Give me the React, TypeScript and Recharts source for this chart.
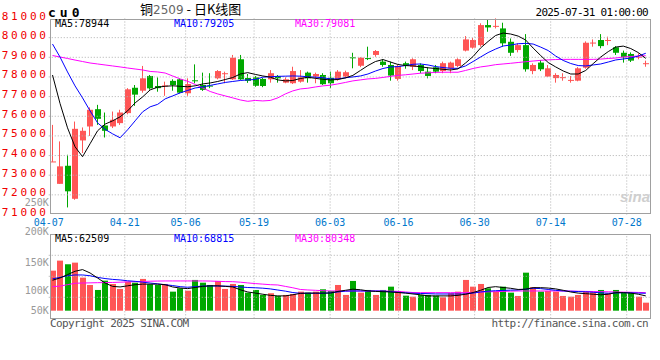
import React from "react";
import { ComposedChart, Bar, Line, XAxis, YAxis, ReferenceLine } from "recharts";

// trading days shown (04-07 .. 07-31)
const dates = [
  "04-07", "04-08", "04-09", "04-10", "04-11", "04-14", "04-15", "04-16", "04-17", "04-18",
  "04-21", "04-22", "04-23", "04-24", "04-25", "04-28", "04-29", "04-30", "05-06", "05-07",
  "05-08", "05-09", "05-12", "05-13", "05-14", "05-15", "05-16", "05-19", "05-20", "05-21",
  "05-22", "05-23", "05-26", "05-27", "05-28", "05-29", "05-30", "06-03", "06-04", "06-05",
  "06-06", "06-09", "06-10", "06-11", "06-12", "06-13", "06-16", "06-17", "06-18", "06-19",
  "06-20", "06-23", "06-24", "06-25", "06-26", "06-27", "06-30", "07-01", "07-02", "07-03",
  "07-04", "07-07", "07-08", "07-09", "07-10", "07-11", "07-14", "07-15", "07-16", "07-17",
  "07-18", "07-21", "07-22", "07-23", "07-24", "07-25", "07-28", "07-29", "07-30", "07-31",
];

const opens = [
  73680, 72560, 73480, 71800, 74770, 75480, 76360, 75530, 75480, 75650,
  76160, 77450, 77300, 78050, 77540, 77550, 77800, 77880, 77170, 77830,
  77590, 77560, 77930, 78170, 77880, 78900, 77950, 77980, 77900, 77880,
  78050, 77710, 77680, 77760, 78220, 78020, 78100, 77960, 77880, 78020,
  79000, 78570, 78960, 79120, 78780, 78610, 77900, 78700, 78520, 78610,
  78270, 78490, 78300, 78440, 78560, 79340, 79490, 79620, 80640, 80580,
  80470, 79790, 79370, 79620, 78300, 78730, 78020, 77940, 77960, 77830,
  77810, 78470, 79720, 79880, 79860, 79510, 79230, 79170, 79000, 78680,
];
const highs = [
  75560, 74720, 74040, 75730, 75430, 76450, 76580, 76190, 76240, 76330,
  77430, 77590, 78560, 78100, 77980, 77760, 77880, 77930, 77930, 78640,
  78220, 78190, 78350, 78270, 79120, 79120, 78150, 78050, 77950, 78350,
  78100, 77980, 78520, 78350, 78270, 78220, 78190, 78270, 78350, 78320,
  79230, 79000, 79540, 79370, 78900, 78780, 78610, 78780, 78950, 78690,
  78490, 78610, 78780, 78780, 78950, 80080, 79980, 80730, 80930, 80980,
  80760, 79960, 79710, 80180, 78690, 78860, 78610, 78190, 78190, 78050,
  78500, 79810, 79910, 80180, 80050, 79570, 79340, 79250, 79200, 78830,
];
const lows = [
  73680, 72560, 71360, 71750, 74130, 75000, 75560, 74920, 75400, 75560,
  76100, 76530, 77200, 77350, 77250, 77040, 77300, 77170, 77040, 77680,
  77290, 77430, 77880, 77680, 77850, 77850, 77700, 77500, 77480, 77710,
  77710, 77680, 77640, 77710, 77710, 77680, 77590, 77430, 77810, 77930,
  78440, 78500, 78860, 79030, 78520, 77810, 77810, 78420, 78350, 78190,
  77930, 78190, 78190, 78190, 78500, 79300, 79440, 79540, 80300, 80470,
  79540, 79070, 79250, 78270, 78140, 78300, 78000, 77710, 77810, 77710,
  77780, 78420, 79540, 79460, 79620, 79120, 78730, 78760, 78900, 78520,
];
const closes = [
  73700, 73450, 72180, 75360, 75260, 76330, 75870, 75260, 75820, 76190,
  77370, 77100, 77930, 77420, 77430, 77570, 77590, 77200, 77640, 77800,
  77340, 77540, 78300, 78190, 78980, 77880, 77800, 77550, 77540, 78190,
  77930, 77880, 78300, 77980, 77930, 78150, 77630, 77680, 78270, 78240,
  78960, 78980, 78930, 79320, 78610, 78070, 78560, 78600, 78900, 78300,
  78050, 78270, 78700, 78730, 78900, 79910, 79880, 80640, 80520, 80600,
  79710, 79230, 79620, 78390, 78610, 78390, 78440, 78100, 77990, 77850,
  78440, 79740, 79750, 79570, 79880, 79230, 79000, 78830, 79030, 78700,
];

// moving averages as drawn
const ma5 = [
  78100, 76655, 75410, 74447, 73940, 74600, 75259, 75600, 75766, 75970,
  76274, 76680, 76985, 77340, 77480, 77525, 77550, 77525, 77500, 77550,
  77645, 77695, 77770, 77870, 77970, 78150, 78220, 78130, 78050, 77990,
  77850, 77800, 77820, 77920, 77985, 77930, 77880, 77850, 77870, 77950,
  78080, 78330, 78580, 78785, 78885, 78760, 78635, 78580, 78560, 78520,
  78465, 78430, 78390, 78355, 78410, 78710, 79040, 79475, 79805, 80110,
  80235, 80185, 80080, 79880, 79470, 79090, 78735, 78510, 78305, 78150,
  78150, 78330, 78680, 79015, 79290, 79520, 79570, 79445, 79240, 78944,
];
const ma10 = [
  79675, 79015, 78255, 77545, 76935, 76275, 75665, 75335, 75105, 74905,
  75310, 75766, 76225, 76480, 76605, 76885, 77035, 77190, 77315, 77440,
  77490, 77570, 77645, 77720, 77770, 77820, 77850, 77870, 77990, 78010,
  78030, 78040, 78050, 78040, 78010, 77990, 77960, 77900, 77900, 77960,
  78000, 78050, 78150, 78300, 78430, 78510, 78525, 78580, 78645, 78660,
  78610, 78530, 78480, 78440, 78440, 78560, 78785, 79015, 79240, 79420,
  79575, 79625, 79690, 79710, 79675, 79520, 79345, 79065, 78840, 78685,
  78580, 78560, 78610, 78660, 78760, 78865, 78915, 78965, 79065, 79205,
];
const ma30 = [
  79090, 79015, 78940, 78860, 78785, 78710, 78660, 78610, 78560, 78510,
  78455, 78405, 78355, 78280, 78255, 78200, 78050, 77900, 77780, 77620,
  77440, 77260, 77135, 77035, 76935, 76830, 76760, 76805, 76780, 76805,
  76935, 77135, 77290, 77390, 77425, 77490, 77545, 77580, 77645, 77720,
  77800, 77850, 77900, 77925, 77975, 78030, 78080, 78110, 78150, 78190,
  78210, 78230, 78240, 78240, 78240, 78330, 78430, 78510, 78560, 78625,
  78660, 78695, 78735, 78775, 78810, 78845, 78870, 78885, 78895, 78895,
  78895, 78895, 78895, 78910, 78940, 78965, 79015, 79040, 79065, 79080,
];

// volume (K) and its averages, read against the 50K..200K frame
const volumes = [
  135.1, 153, 146.5, 149.4, 122.6, 109.5, 100.6, 117.2, 111.3, 102.4,
  115.4, 113.6, 120.3, 110.8, 109.5, 111.3, 97.6, 103.6, 99.3, 118.5,
  113.6, 109.5, 116.7, 102.4, 111.3, 109.5, 95.8, 100.6, 91.7, 94.7,
  89.9, 91.7, 93.4, 97.6, 95.8, 97.6, 101.8, 98.8, 109.5, 91.7,
  116.7, 95.8, 100.6, 91.7, 100.6, 106.5, 98.8, 90.4, 88.6, 91.7,
  91.7, 90.4, 87.5, 94.7, 97.6, 118.5, 106.5, 111.3, 103.6, 97.6,
  106.5, 95.8, 89.9, 131.5, 105.4, 97.6, 98.8, 97.6, 89.9, 88.6,
  91.7, 97.6, 96.5, 100.6, 94.7, 100.6, 95.8, 95.8, 88.6, 77.9,
];
const volMa5 = [
  118, 122, 128, 134, 137, 131, 122, 113, 107, 106,
  108, 110, 111, 111, 111, 110, 106, 104, 103, 105,
  107, 108, 108, 107, 106, 101, 97, 95, 93, 91,
  90, 90, 92, 94.5, 95, 95, 95, 95, 98, 100,
  102, 101, 99, 98, 97.5, 97, 96, 95, 93.4, 92,
  90, 90, 90, 90, 91, 93, 96, 100, 105, 106.5,
  105, 103.6, 101.5, 102, 104.7, 104.7, 104, 102.5, 100, 97,
  95, 94, 93, 92, 93, 95.8, 95.8, 95, 93, 90,
];
const volMa10 = [
  120.5, 123, 126, 127.4, 127.4, 126, 123, 121, 119.5, 118.5,
  117, 116, 114.5, 113, 111.5, 110, 108.5, 106.5, 105.5, 106.5,
  107.5, 107.7, 107.7, 107.5, 107, 106, 105, 104.5, 103.8, 102.5,
  100.5, 98.5, 96, 94.7, 94.7, 94.7, 94.7, 95.5, 97, 98.5,
  98.8, 98.8, 98.8, 98.8, 98.5, 97.5, 96.5, 95.5, 94.7, 94.3,
  94, 93.5, 93.4, 93.4, 93.4, 93.4, 95, 97, 98.5, 99.3,
  99.8, 100.3, 100.6, 102, 103.6, 103, 101.5, 100, 98.8, 98.3,
  97.8, 97.3, 96.5, 95.5, 94.7, 95.2, 95.8, 95.5, 95, 94.7,
];
const volMa30 = [
  106.5, 107.5, 110, 112.6, 113, 113.3, 113.6, 113.8, 114, 114.5,
  115, 115.4, 115.8, 116.2, 116.5, 116.7, 116.7, 116.7, 116.7, 116.7,
  116.7, 116.5, 116, 115.6, 115.4, 114.5, 113.2, 112, 111, 110,
  109.5, 107, 104.5, 101.5, 100.6, 100, 99.3, 98.8, 98.8, 98.8,
  98.8, 98.8, 98.8, 98.8, 98.8, 98.5, 98, 97, 96, 95.8,
  95.8, 95.8, 95.8, 95.8, 95.8, 95.8, 96.2, 96.8, 97.3, 97.6,
  98, 98.5, 98.8, 98.8, 98.8, 98.8, 98.8, 98.8, 98.8, 98.6,
  98.3, 98, 97.8, 97.6, 97.3, 97, 96.7, 96.5, 96.2, 95.8,
];

const dateTicks = ["04-07", "04-21", "05-06", "05-19", "06-03", "06-16", "06-30", "07-14", "07-28"];
const priceTicks = [71000, 72000, 73000, 74000, 75000, 76000, 77000, 78000, 79000, 80000, 81000];
const priceGrid = [72000, 73000, 74000, 75000, 76000, 77000, 78000, 79000, 80000];
const volTicks = [50, 100, 150, 200, 250];
const volGrid = [87.5, 125, 162.5];
const VOL_MIN = 50; // bottom of the volume frame
const VOL_MAX = 200; // top of the volume frame
const VOL_FLOOR = 63.6; // sina draws the volume bars up from here, not from the frame

const RED = "#ff5555";
const GREEN = "#00a800";
const GRID = "#b0b0b0";
const mono = "'DejaVu Sans Mono', monospace";

const rows = dates.map((d, i) => ({
  i,
  date: d,
  open: opens[i],
  high: highs[i],
  low: lows[i],
  close: closes[i],
  ma5: ma5[i],
  ma10: ma10[i],
  ma30: ma30[i],
  vol: volumes[i],
  volMa5: volMa5[i],
  volMa10: volMa10[i],
  volMa30: volMa30[i],
}));

const dateTickIdx = dateTicks.map(d => dates.indexOf(d));

// candle: wick over the full high-low bar, body between open and close
function Candle(props: any) {
  const { x, y, width, height, payload } = props;
  if (x == null || y == null || !payload) return null;
  const top = Math.min(y, y + height);
  const h = Math.abs(height);
  const span = payload.high - payload.low;
  const toY = (v: number) => (span > 0 ? top + ((payload.high - v) / span) * h : top);
  const color = payload.close >= payload.open ? RED : GREEN;
  const cx = Math.round(x + width / 2);
  const bTop = toY(Math.max(payload.open, payload.close));
  const bBot = toY(Math.min(payload.open, payload.close));
  return (
    <g>
      <rect x={cx - 1} y={top} width={1} height={Math.max(h, 1)} fill={color} />
      <rect x={cx - 3} y={bTop} width={6} height={Math.max(bBot - bTop, 1)} fill={color} />
    </g>
  );
}

function VolBar(props: any) {
  const { x, y, width, height, payload } = props;
  if (x == null || y == null || !payload) return null;
  const color = payload.close >= payload.open ? RED : GREEN;
  const cx = Math.round(x + width / 2);
  return <rect x={cx - 3} y={Math.min(y, y + height)} width={6} height={Math.abs(height)} fill={color} />;
}

function PriceTick(props: any) {
  const { x, y, payload } = props;
  return (
    <text x={x} y={y + 1.5} textAnchor="end" fill="#f00000" fontFamily={mono} fontSize={11} letterSpacing={2.8}>
      {payload.value}
    </text>
  );
}

// sina nudges its volume labels: the outer ones sit off their values
const volShift: Record<number, number> = { 250: -4, 200: -2.5, 150: 0, 100: 0, 50: -8 };

function VolTick(props: any) {
  const { x, y, payload } = props;
  const shift = volShift[payload.value] ?? 0;
  return (
    <text x={x} y={y + shift + 3.4} textAnchor="end" fill="#999" fontFamily={mono} fontSize={10}>
      {payload.value + "K"}
    </text>
  );
}

function DateTick(props: any) {
  const { x, y, payload } = props;
  return (
    <text x={x} y={y + 9} textAnchor="middle" fill="#0077cc" fontFamily={mono} fontSize={10}>
      {dates[payload.value]}
    </text>
  );
}

function Txt({ x, right, cy, size = 10, color = "#000", bold = false, spacing = 0, family = mono, children }: any) {
  const style: any = {
    position: "absolute",
    top: cy - size / 2,
    fontSize: size,
    lineHeight: size + "px",
    color,
    fontFamily: family,
    fontWeight: bold ? "bold" : "normal",
    letterSpacing: spacing,
    whiteSpace: "nowrap",
  };
  if (right != null) style.right = 660 - right;
  else style.left = x;
  return <div style={style}>{children}</div>;
}

function Frame({ top, bottom }: { top: number; bottom: number }) {
  return (
    <div
      style={{
        position: "absolute",
        left: 50,
        top,
        width: 601,
        height: bottom - top + 1,
        border: "1px solid #a0a0a0",
        boxSizing: "border-box",
        pointerEvents: "none",
      }}
    />
  );
}

export default function App() {
  return (
    <div style={{ position: "absolute", left: 0, top: 0, width: 660, height: 360, background: "#fff", overflow: "hidden" }}>
      {/* price panel */}
      <div style={{ position: "absolute", left: 0, top: 0 }}>
        <ComposedChart width={660} height={230} data={rows} margin={{ top: 18, right: 10.45, bottom: 0, left: 0 }}>
          <XAxis xAxisId="k" dataKey="i" type="category" hide />
          {/* sina steps the date grid slightly wider than the candles */}
          <XAxis
            xAxisId="g"
            type="number"
            domain={[0, 78.9]}
            allowDataOverflow
            ticks={dateTickIdx}
            interval={0}
            height={15.5}
            axisLine={false}
            tickLine={false}
            tickSize={0}
            tick={(p: any) => <DateTick {...p} />}
          />
          <YAxis
            domain={[71000, 81000]}
            allowDataOverflow
            ticks={priceTicks}
            width={48.75}
            axisLine={false}
            tickLine={false}
            tickSize={0}
            tickMargin={0}
            interval={0}
            tick={(p: any) => <PriceTick {...p} />}
          />
          {priceGrid.map(v => (
            <ReferenceLine key={"p" + v} y={v} xAxisId="k" stroke={GRID} strokeDasharray="1 2" />
          ))}
          {dateTickIdx.slice(1).map(v => (
            <ReferenceLine key={"d" + v} x={v} xAxisId="g" stroke={GRID} strokeDasharray="1 2" />
          ))}
          <Bar
            xAxisId="k"
            dataKey={(d: any) => [d.low, d.high]}
            barSize={6}
            shape={(p: any) => <Candle {...p} />}
            isAnimationActive={false}
          />
          <Line xAxisId="k" type="linear" dataKey="ma30" stroke="#ff00ff" strokeWidth={1} dot={false} isAnimationActive={false} />
          <Line xAxisId="k" type="linear" dataKey="ma10" stroke="#0000ff" strokeWidth={1} dot={false} isAnimationActive={false} />
          <Line xAxisId="k" type="linear" dataKey="ma5" stroke="#000000" strokeWidth={1} dot={false} isAnimationActive={false} />
        </ComposedChart>
      </div>

      {/* volume panel; its scale runs up to 250K so that label can sit above the frame */}
      <div style={{ position: "absolute", left: 0, top: 190 }}>
        <ComposedChart width={660} height={140} data={rows} margin={{ top: 16.3, right: 10.45, bottom: 11.7, left: 0 }}>
          <XAxis xAxisId="k" dataKey="i" type="category" hide />
          <XAxis xAxisId="g" type="number" domain={[0, 78.9]} allowDataOverflow hide />
          <YAxis
            domain={[VOL_MIN, 250]}
            allowDataOverflow
            ticks={volTicks}
            width={48.75}
            axisLine={false}
            tickLine={false}
            tickSize={0}
            tickMargin={0}
            interval={0}
            tick={(p: any) => <VolTick {...p} />}
          />
          {volGrid.map(v => (
            <ReferenceLine key={"v" + v} y={v} xAxisId="k" stroke={GRID} strokeDasharray="1 2" />
          ))}
          {dateTickIdx.slice(1).map(v => (
            <ReferenceLine
              key={"vd" + v}
              xAxisId="g"
              segment={[{ x: v, y: VOL_MIN }, { x: v, y: VOL_MAX }]}
              stroke={GRID}
              strokeDasharray="1 2"
            />
          ))}
          <Bar
            xAxisId="k"
            dataKey={(d: any) => [VOL_FLOOR, d.vol]}
            barSize={6}
            shape={(p: any) => <VolBar {...p} />}
            isAnimationActive={false}
          />
          <Line xAxisId="k" type="linear" dataKey="volMa30" stroke="#ff00ff" strokeWidth={1} dot={false} isAnimationActive={false} />
          <Line xAxisId="k" type="linear" dataKey="volMa10" stroke="#0000ff" strokeWidth={1} dot={false} isAnimationActive={false} />
          <Line xAxisId="k" type="linear" dataKey="volMa5" stroke="#000000" strokeWidth={1} dot={false} isAnimationActive={false} />
        </ComposedChart>
      </div>

      <Frame top={19} bottom={213} />
      <Frame top={234} bottom={318} />

      {/* header */}
      <Txt x={48} cy={12} size={13} bold spacing={4}>cu0</Txt>
      <div style={{ position: "absolute", left: 140, top: 2, fontSize: 13, lineHeight: "14px", fontFamily: "'Noto Sans CJK SC', sans-serif", whiteSpace: "nowrap" }}>
        铜<span style={{ fontSize: 12, color: "#666", fontFamily: "'DejaVu Sans', sans-serif" }}>2509</span> - 日K线图
      </div>
      <Txt right={648} cy={12} size={11} spacing={-0.7}>2025-07-31 01:00:00</Txt>

      {/* MA legends */}
      <Txt x={55} cy={24} color="#000">MA5:78944</Txt>
      <Txt x={174} cy={24} color="#0000ff">MA10:79205</Txt>
      <Txt x={295} cy={24} color="#ff00ff">MA30:79081</Txt>
      <Txt x={55} cy={238.5} color="#000">MA5:62509</Txt>
      <Txt x={174} cy={238.5} color="#0000ff">MA10:68815</Txt>
      <Txt x={295} cy={238.5} color="#ff00ff">MA30:80348</Txt>

      {/* watermark and footer */}
      <Txt x={620} cy={196} size={15} bold color="#cfcfcf" family="'Liberation Sans', sans-serif">
        <i>sina</i>
      </Txt>
      <Txt x={50} cy={323.5} size={11} spacing={-0.6} color="#555">Copyright 2025 SINA.COM</Txt>
      <Txt right={648} cy={323.5} size={11} spacing={-0.6} color="#555">http://finance.sina.com.cn</Txt>
    </div>
  );
}
